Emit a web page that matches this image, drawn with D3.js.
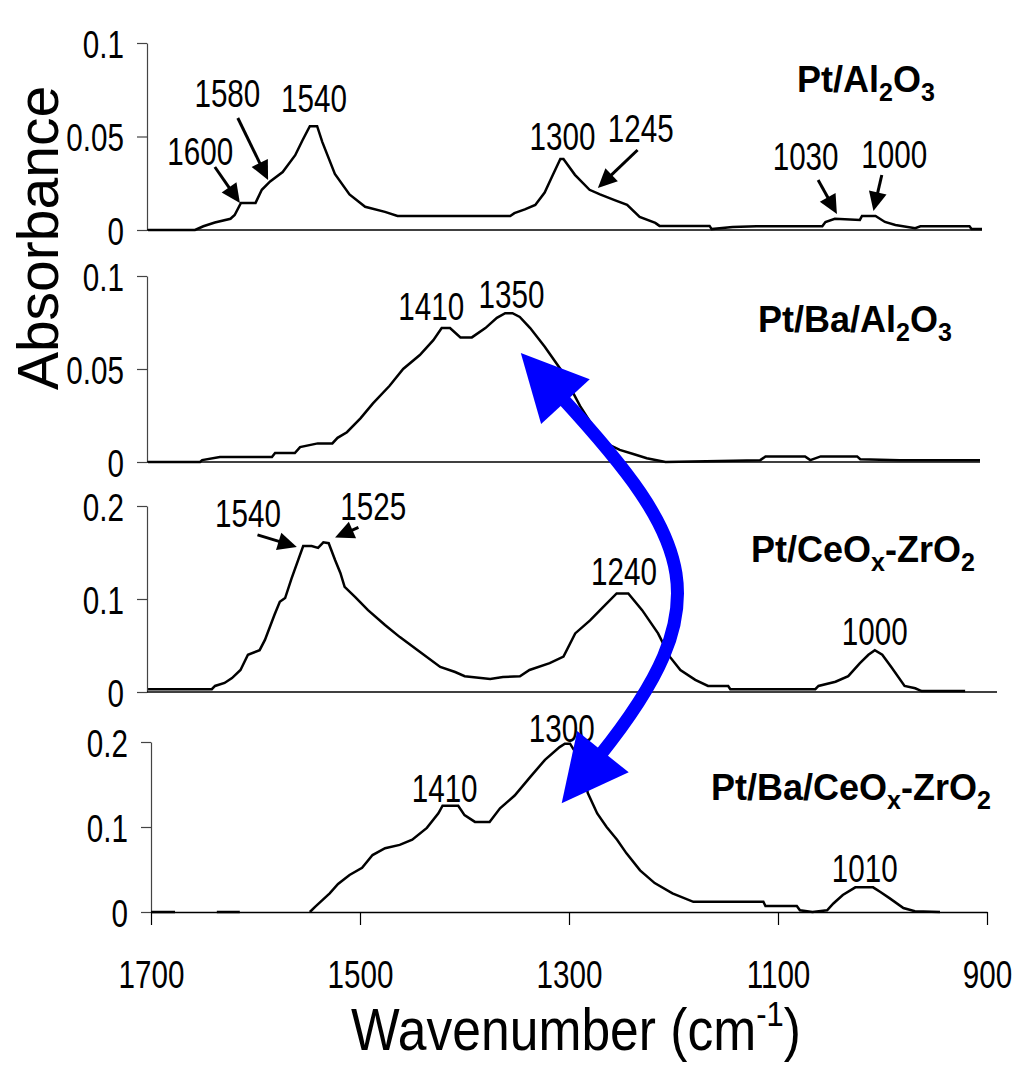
<!DOCTYPE html>
<html>
<head>
<meta charset="utf-8">
<script src="https://cdn.jsdelivr.net/npm/d3@7"></script>
<style>
  html, body { margin: 0; padding: 0; background: #fff; }
  svg { display: block; }
  .sans { font-family: "Liberation Sans", Arial, Helvetica, sans-serif; }
</style>
</head>
<body>
<svg id="chart" width="1017" height="1065"></svg>
<script>
// ---- Data -------------------------------------------------------------
// Shared wavenumber axis (cm-1), drawn high -> low
const xTickValues = [1700, 1500, 1300, 1100, 900];
const yTicksSmall = [0, 0.05, 0.1];
const yTicksLarge = [0, 0.1, 0.2];

// Pt/Al2O3
const wnPtAl = [1699,1668,1654,1646,1635,1620,1616,1610,1596,1590,1582,1570,1558,1551,1544,1537,1532,1520,1506,1491,
  1472,1460,1352,1348,1338,1328,1319,1312,1304,1301,1290,1276,1266,1252,1240,1228,1213,1209,1161,1159,
  1139,1116,1053,1050,1041,1017,1015,1002,993,983,964,959,912,910,900];
const absPtAl = [0,0,0,0.002,0.004,0.006,0.008,0.0145,0.0145,0.0215,0.026,0.031,0.040,0.048,0.0555,0.0555,0.047,0.030,0.019,0.0124,
  0.0097,0.0075,0.0075,0.009,0.011,0.0134,0.020,0.0285,0.038,0.038,0.0295,0.0215,0.019,0.016,0.0134,0.007,0.0038,0.0022,0.0022,0.0005,
  0.0016,0.002,0.002,0.0043,0.006,0.0054,0.0075,0.0075,0.0043,0.0027,0.001,0.002,0.002,0.0005,0.0005];

// Pt/Ba/Al2O3
const wnPtBaAl = [1699,1649,1647,1630,1580,1577,1558,1553,1536,1522,1517,1508,1495,1483,1467,1454,1438,1425,1417,1409,
  1399,1388,1375,1364,1356,1349,1342,1332,1318,1303,1284,1265,1255,1246,1233,1220,1202,1111,1106,1068,
  1063,1053,1018,1015,977,900];
const absPtBaAl = [0,0,0.001,0.0027,0.0027,0.0048,0.0048,0.008,0.010,0.010,0.013,0.016,0.0235,0.0315,0.041,0.050,0.0575,0.0655,0.072,0.072,
  0.067,0.067,0.072,0.0775,0.080,0.080,0.078,0.072,0.062,0.050,0.030,0.0134,0.009,0.0065,0.0043,0.002,0,0.001,0.003,0.003,
  0.001,0.003,0.003,0.0015,0.001,0.001];

// Pt/CeOx-ZrO2
const wnPtCeZr = [1699,1639,1636,1627,1620,1612,1605,1594,1589,1580,1575,1570,1564,1553,1545,1539,1534,1529,1523,1518,
  1514,1504,1492,1476,1462,1443,1424,1410,1401,1377,1365,1349,1340,1321,1308,1297,1283,1271,1258,1247,
  1234,1219,1208,1198,1184,1172,1153,1151,1071,1068,1052,1040,1029,1021,1015,1008,999,987,977,971,930];
const absPtCeZr = [0.003,0.003,0.0065,0.0097,0.015,0.0237,0.040,0.045,0.056,0.083,0.097,0.101,0.122,0.157,0.157,0.155,0.161,0.160,0.142,0.128,
  0.113,0.102,0.088,0.072,0.059,0.043,0.027,0.0215,0.017,0.014,0.016,0.017,0.0237,0.031,0.038,0.063,0.077,0.091,0.106,0.106,
  0.088,0.063,0.038,0.0237,0.013,0.0065,0.0065,0.003,0.003,0.0065,0.011,0.017,0.031,0.040,0.045,0.040,0.026,0.0065,0.004,0.001,0.001];

// Pt/Ba/CeOx-ZrO2 (null = no recorded point)
const wnPtBaCeZr = [1700,1677,1676,1637,1615,1614,1548,1543,1536,1529,1521,1510,1498,1488,1476,1462,1450,1436,1425,1421,
  1406,1400,1390,1376,1366,1352,1337,1323,1309,1304,1299,1289,1282,1273,1264,1254,1245,1232,1218,1201,
  1181,1114,1112,1082,1079,1067,1053,1047,1038,1026,1009,1002,993,980,969,945];
const absPtBaCeZr = [0,0,null,0,0,null,0,0.006,0.014,0.022,0.033,0.0435,0.052,0.067,0.075,0.079,0.085,0.099,0.116,0.125,
  0.125,0.114,0.106,0.106,0.122,0.137,0.159,0.179,0.194,0.198,0.198,0.178,0.140,0.116,0.100,0.085,0.069,0.049,0.034,0.022,
  0.012,0.012,0.007,0.007,0.002,0,0.002,0.010,0.020,0.029,0.029,0.0235,0.016,0.0047,0.001,0];

// Sample names: [text, subscript?] runs
const nameRuns = [
  [["Pt/Al",0],["2",1],["O",0],["3",1]],
  [["Pt/Ba/Al",0],["2",1],["O",0],["3",1]],
  [["Pt/CeO",0],["x",1],["-ZrO",0],["2",1]],
  [["Pt/Ba/CeO",0],["x",1],["-ZrO",0],["2",1]]
];

// Band assignments: [wavenumber position, absorbance position, label]
const bandLabels = [
  [[1649,0.0348,"1600"],[1623,0.0658,"1580"],[1540,0.0631,"1540"],[1302,0.0428,"1300"],[1227,0.0471,"1245"],[1069,0.0321,"1030"],[984,0.0332,"1000"]],
  [[1427,0.0763,"1410"],[1350,0.0828,"1350"]],
  [[1605,0.177,"1540"],[1487,0.185,"1525"],[1251,0.115,"1240"],[1015,0.0505,"1000"]],
  [[1419,0.129,"1410"],[1307,0.200,"1300"],[1017,0.035,"1010"]]
];
// Pointer arrows: [from wn, from abs, to wn, to abs]
const bandPointers = [
  [[1635,0.0337,1611,0.0144],[1613,0.0599,1584,0.0267],[1230,0.0428,1268,0.0225],[1057,0.0267,1039,0.0086],[996,0.0294,1004,0.0102]],
  [],
  [[1596,0.169,1559,0.156],[1501,0.177,1523,0.166]],
  []
];

// ---- Layout -----------------------------------------------------------
const NARROW = 0.76;   // horizontal squeeze for the condensed numeric labels
const NUM_SIZE = 39;
const frames = [
  {left:147, right:982, bottom:230, top:43,  yMax:0.1, ticks:yTicksSmall, nameX:866, nameY:92},
  {left:147, right:980, bottom:462, top:276, yMax:0.1, ticks:yTicksSmall, nameX:855, nameY:332},
  {left:147, right:997, bottom:692, top:506, yMax:0.2, ticks:yTicksLarge, nameX:863, nameY:562},
  {left:151, right:987, bottom:912, top:742, yMax:0.2, ticks:yTicksLarge, nameX:851, nameY:800}
];
const spectra = [
  {wn: wnPtAl, abs: absPtAl},
  {wn: wnPtBaAl, abs: absPtBaAl},
  {wn: wnPtCeZr, abs: absPtCeZr},
  {wn: wnPtBaCeZr, abs: absPtBaCeZr}
];

const svg = d3.select("#chart");
const scales = [];

frames.forEach((f, i) => {
  const x = d3.scaleLinear().domain([1700, 900]).range([f.left, f.right]);
  const y = d3.scaleLinear().domain([0, f.yMax]).range([f.bottom, f.top]);
  scales.push({x, y});
  const g = svg.append("g");

  // y axis
  const yAxis = d3.axisLeft(y).tickValues(f.ticks).tickSize(10).tickSizeOuter(0).tickPadding(13)
    .tickFormat(d => d === 0 ? "0" : String(d));
  const ya = g.append("g").attr("transform", `translate(${f.left},0)`).call(yAxis);
  ya.attr("font-family", null).attr("font-size", null);
  ya.select(".domain").attr("stroke", "#444").attr("stroke-width", 1.2);
  ya.selectAll(".tick line").attr("stroke", "#444").attr("stroke-width", 1.2);
  ya.selectAll(".tick text").attr("class", "sans").attr("font-size", NUM_SIZE).attr("fill", "#000")
    .attr("dy", "0.36em").attr("x", -23 / NARROW).attr("transform", `scale(${NARROW},1)`);

  // baseline / x axis
  if (i < 3) {
    g.append("line").attr("x1", f.left).attr("x2", f.right)
      .attr("y1", f.bottom).attr("y2", f.bottom)
      .attr("stroke", "#000").attr("stroke-width", 1.5);
  } else {
    const xAxis = d3.axisBottom(x).tickValues(xTickValues).tickSize(13).tickSizeOuter(0).tickPadding(35)
      .tickFormat(d3.format("d"));
    const xa = g.append("g").attr("transform", `translate(0,${f.bottom})`).call(xAxis);
    xa.attr("font-family", null).attr("font-size", null);
    xa.select(".domain").attr("stroke", "#000").attr("stroke-width", 1.5);
    xa.selectAll(".tick line").attr("stroke", "#000").attr("stroke-width", 1.2);
    xa.selectAll(".tick text").attr("class", "sans").attr("font-size", NUM_SIZE).attr("fill", "#000")
      .attr("transform", `scale(${NARROW},1)`);
  }

  // spectrum
  const s = spectra[i];
  const pts = s.wn.map((w, k) => [w, s.abs[k]]);
  const line = d3.line().defined(d => d[1] !== null).x(d => x(d[0])).y(d => y(d[1]));
  g.append("path").datum(pts).attr("d", line)
    .attr("fill", "none").attr("stroke", "#000").attr("stroke-width", 2.5)
    .attr("stroke-linejoin", "miter");

  // sample name
  const t = g.append("text").attr("class", "sans").attr("font-weight", "bold")
    .attr("font-size", 36).attr("text-anchor", "middle")
    .attr("x", f.nameX).attr("y", f.nameY);
  let shifted = false;
  nameRuns[i].forEach(([txt, sub]) => {
    const ts = t.append("tspan").text(txt);
    if (sub && !shifted) { ts.attr("dy", 9).attr("font-size", 25); shifted = true; }
    else if (sub) { ts.attr("font-size", 25); }
    else if (!sub && shifted) { ts.attr("dy", -9); shifted = false; }
  });

  // band labels
  g.selectAll("text.band").data(bandLabels[i]).join("text")
    .attr("class", "band sans").attr("font-size", NUM_SIZE).attr("text-anchor", "middle")
    .attr("transform", d => `translate(${x(d[0])},${y(d[1])}) scale(${NARROW},1)`)
    .text(d => d[2]);

  // pointer arrows
  bandPointers[i].forEach(p => {
    const x1 = x(p[0]), y1 = y(p[1]), x2 = x(p[2]), y2 = y(p[3]);
    const dx = x2 - x1, dy = y2 - y1, len = Math.hypot(dx, dy);
    const ux = dx / len, uy = dy / len;
    const hl = 19, hw = 9;
    const bx = x2 - ux * hl, by = y2 - uy * hl;
    g.append("line").attr("x1", x1).attr("y1", y1).attr("x2", bx + ux * 2).attr("y2", by + uy * 2)
      .attr("stroke", "#000").attr("stroke-width", 3);
    g.append("path")
      .attr("d", `M${x2},${y2}L${bx - uy * hw},${by + ux * hw}L${bx + uy * hw},${by - ux * hw}Z`)
      .attr("fill", "#000");
  });
});

// ---- Axis titles ------------------------------------------------------
svg.append("text").attr("class", "sans").attr("font-size", 57).attr("text-anchor", "middle")
  .attr("transform", "translate(58,238) rotate(-90)").text("Absorbance");

const xt = svg.append("text").attr("class", "sans").attr("font-size", 60).attr("text-anchor", "middle")
  .attr("transform", "translate(576,1050) scale(0.86,1)");
xt.append("tspan").text("Wavenumber (cm");
xt.append("tspan").attr("font-size", 36).attr("dy", -24).text("-1");
xt.append("tspan").attr("dy", 24).text(")");

// ---- Curved double-headed arrow linking the two Ba-containing samples ----
(function () {
  const tipTop = [scales[1].x(1341), scales[1].y(0.0586)];
  const tipBot = [scales[3].x(1307), scales[3].y(0.128)];
  const norm = v => { const l = Math.hypot(v[0], v[1]); return [v[0] / l, v[1] / l]; };
  const dirTop = norm([-44.5, -48.5]);
  const dirBot = norm([-40.5, 50.5]);
  const headLen = 66, headHalf = 33, bend = 190;
  const head = (tip, d) => {
    const b = [tip[0] - d[0] * headLen, tip[1] - d[1] * headLen];
    const n = [-d[1], d[0]];
    return { base: b, d: `M${tip[0]},${tip[1]}L${b[0] + n[0] * headHalf},${b[1] + n[1] * headHalf}L${b[0] - n[0] * headHalf},${b[1] - n[1] * headHalf}Z` };
  };
  const h1 = head(tipTop, dirTop), h2 = head(tipBot, dirBot);
  const p0 = [h1.base[0] + dirTop[0] * 6, h1.base[1] + dirTop[1] * 6];
  const p3 = [h2.base[0] + dirBot[0] * 6, h2.base[1] + dirBot[1] * 6];
  const c1 = [h1.base[0] - dirTop[0] * bend, h1.base[1] - dirTop[1] * bend];
  const c2 = [h2.base[0] - dirBot[0] * bend, h2.base[1] - dirBot[1] * bend];
  const g = svg.append("g");
  g.append("path").attr("d", `M${p0}C${c1} ${c2} ${p3}`)
    .attr("fill", "none").attr("stroke", "#0000ff").attr("stroke-width", 13);
  g.append("path").attr("d", h1.d).attr("fill", "#0000ff");
  g.append("path").attr("d", h2.d).attr("fill", "#0000ff");
})();
</script>
</body>
</html>
